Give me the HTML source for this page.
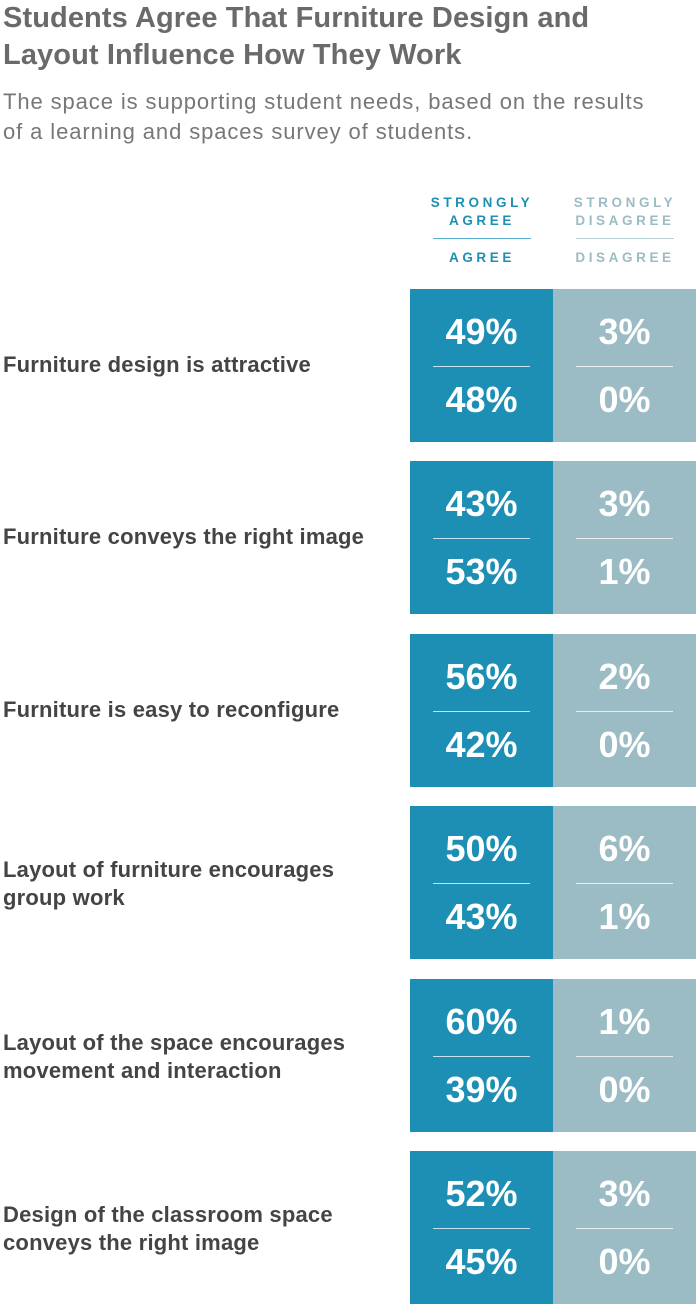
<!DOCTYPE html>
<html><head><meta charset="utf-8"><style>
body{margin:0;width:700px;height:1315px;background:#fff;font-family:"Liberation Sans",sans-serif;position:relative;overflow:hidden}
.t{position:absolute;left:3px;top:0;font-size:29px;font-weight:bold;color:#6a6a6a;line-height:37px;letter-spacing:0.1px}
.s{position:absolute;left:3px;top:87px;font-size:22px;color:#777;line-height:30px;letter-spacing:0.9px}
.h{position:absolute;width:130px;text-align:center;font-size:13.5px;font-weight:bold;letter-spacing:3.6px;line-height:18px}
.hl{position:absolute;height:1px;width:98px}
.lab{position:absolute;left:3px;font-size:22px;color:#444;line-height:28px;font-weight:bold;letter-spacing:0.2px}
.box{position:absolute;width:143px;height:153px}
.a{left:410px;background:#1e8fb4}.d{left:553px;background:#9bbcc4}
.n{position:absolute;left:0;width:143px;text-align:center;color:#fff;font-weight:bold;font-size:36px;letter-spacing:0}
.ln{position:absolute;left:23px;width:97px;height:1px;background:rgba(255,255,255,.75);top:77px}
</style></head><body>
<div class="t">Students Agree That Furniture Design and<br>Layout Influence How They Work</div>
<div class="s">The space is supporting student needs, based on the results<br>of a learning and spaces survey of students.</div>
<div class="h" style="left:417px;top:194px;color:#1e8fb4">STRONGLY<br>AGREE</div>
<div class="hl" style="left:433px;top:238px;background:#5bb0cf"></div>
<div class="h" style="left:417px;top:249px;color:#1e8fb4">AGREE</div>
<div class="h" style="left:560px;top:194px;color:#9bbcc4">STRONGLY<br>DISAGREE</div>
<div class="hl" style="left:576px;top:238px;background:#b9d0d6"></div>
<div class="h" style="left:560px;top:249px;color:#9bbcc4">DISAGREE</div>
<div id="rows"></div>
<script>
var d=[["Furniture design is attractive",49,48,3,0],["Furniture conveys the right image",43,53,3,1],["Furniture is easy to reconfigure",56,42,2,0],["Layout of furniture encourages<br>group work",50,43,6,1],["Layout of the space encourages<br>movement and interaction",60,39,1,0],["Design of the classroom space<br>conveys the right image",52,45,3,0]];
var h="";d.forEach(function(r,i){var y=289+i*172.4;var two=r[0].indexOf("<br>")>0;
h+='<div class="lab" style="top:'+(y+(two?50:62))+'px">'+r[0]+'</div>';
h+='<div class="box a" style="top:'+y+'px"><div class="n" style="top:22px">'+r[1]+'%</div><div class="ln"></div><div class="n" style="top:90px">'+r[2]+'%</div></div>';
h+='<div class="box d" style="top:'+y+'px"><div class="n" style="top:22px">'+r[3]+'%</div><div class="ln"></div><div class="n" style="top:90px">'+r[4]+'%</div></div>';});
document.getElementById("rows").innerHTML=h;
</script>
</body></html>
